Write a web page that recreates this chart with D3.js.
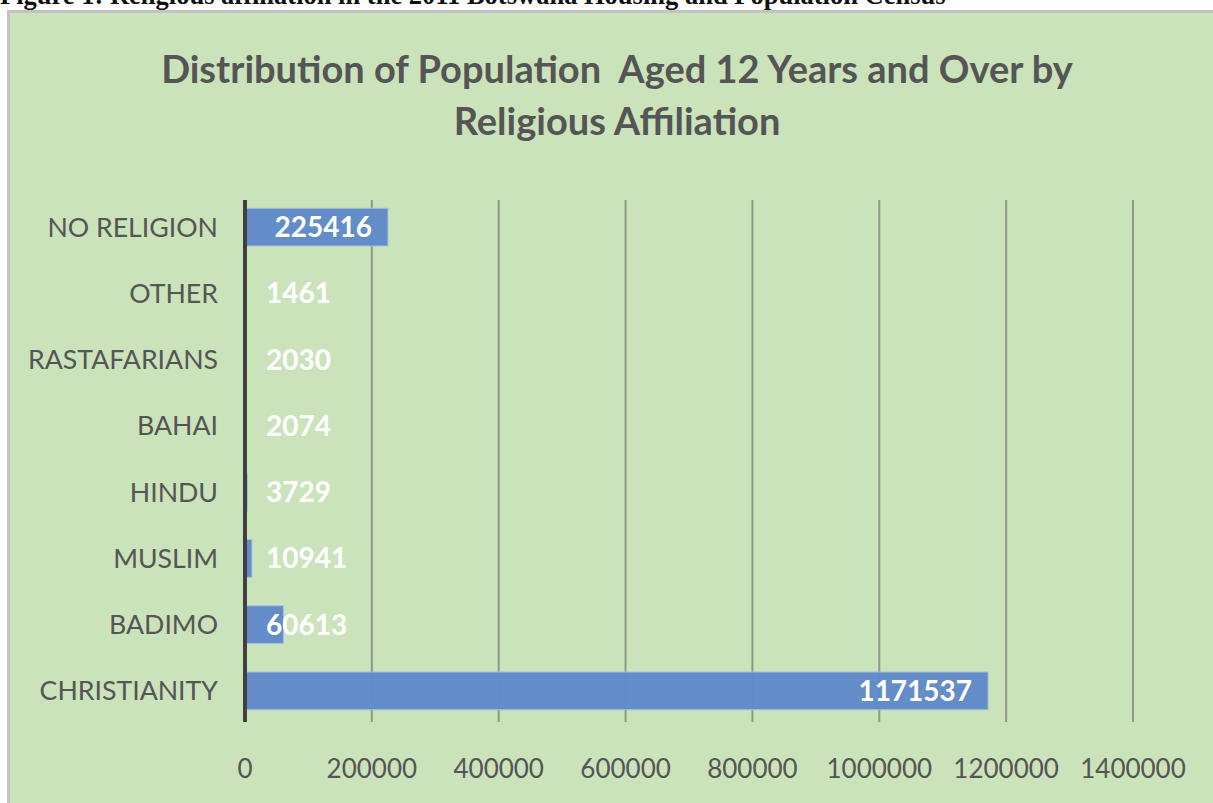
<!DOCTYPE html>
<html>
<head>
  <meta charset="UTF-8">
  <style>
    body { margin: 0; background: #fff; }
    svg { display: block; }
  </style>
</head>
<body>
<svg></svg>
<script src="https://d3js.org/d3.v7.min.js"></script>
<script>

let width = 1213, height = 803;

// data
const categories = ["NO RELIGION", "OTHER", "RASTAFARIANS", "BAHAI", "HINDU", "MUSLIM", "BADIMO", "CHRISTIANITY"];
const values = [225416, 1461, 2030, 2074, 3729, 10941, 60613, 1171537];
const ticks = [0, 200000, 400000, 600000, 800000, 1000000, 1200000, 1400000];

let svg = d3.select("svg")
    .attr("width", width)
    .attr("height", height);

// caption above the panel, cut off at the top
svg.append("text")
    .attr("x", 0)
    .attr("y", 4)
    .attr("font-family", "Liberation Serif")
    .attr("font-weight", "bold")
    .attr("font-size", 26.5)
    .attr("fill", "#111")
    .text("Figure 1: Religious affiliation in the 2011 Botswana Housing and Population Census");

// panel with grey border on top and left
svg.append("rect")
    .attr("x", 7).attr("y", 10)
    .attr("width", width).attr("height", height)
    .attr("fill", "#c3c3c3");
svg.append("rect")
    .attr("x", 10).attr("y", 13)
    .attr("width", width).attr("height", height)
    .attr("fill", "#cbe3bb");

// title
let title = svg.append("text")
    .attr("text-anchor", "middle")
    .attr("font-family", "Lato")
    .attr("font-weight", "bold")
    .attr("font-size", 38)
    .attr("fill", "#555")
    .style("white-space", "pre");
title.append("tspan").attr("x", 617).attr("y", 83).text("Distribution of Population  Aged 12 Years and Over by");
title.append("tspan").attr("x", 617).attr("y", 135).text("Religious Affiliation");

let x = d3.scaleLinear()
    .domain([0, 1400000])
    .range([245, 1133]);

let y = d3.scaleBand()
    .domain(categories)
    .range([194, 724])
    .paddingInner(0.43)
    .paddingOuter(0.215);

// gridlines
svg.append("g")
    .selectAll("line")
    .data(ticks.slice(1))
    .enter()
    .append("line")
    .attr("x1", d => x(d)).attr("x2", d => x(d))
    .attr("y1", 200).attr("y2", 722)
    .attr("stroke", "#8d9a86")
    .attr("stroke-width", 2);

// bars
svg.append("g")
    .selectAll("rect")
    .data(values)
    .enter()
    .append("rect")
    .attr("x", x(0))
    .attr("y", (d, i) => y(categories[i]))
    .attr("width", d => x(d) - x(0))
    .attr("height", y.bandwidth())
    .attr("fill", "#5f8ac8")
    .attr("fill-opacity", 0.97)
    .attr("stroke", "#a9c0e0")
    .attr("stroke-width", 1);

// zero axis line
svg.append("line")
    .attr("x1", x(0)).attr("x2", x(0))
    .attr("y1", 200).attr("y2", 722)
    .attr("stroke", "#404040")
    .attr("stroke-width", 4);

// category labels
svg.append("g")
    .selectAll("text")
    .data(categories)
    .enter()
    .append("text")
    .attr("x", 218)
    .attr("y", d => y(d) + y.bandwidth() / 2)
    .attr("dy", "0.36em")
    .attr("text-anchor", "end")
    .attr("font-family", "Lato")
    .attr("font-size", 26.7)
    .attr("fill", "#555")
    .text(d => d);

// x tick labels
svg.append("g")
    .selectAll("text")
    .data(ticks)
    .enter()
    .append("text")
    .attr("x", d => x(d))
    .attr("y", 778)
    .attr("text-anchor", "middle")
    .attr("font-family", "Lato")
    .attr("font-size", 26)
    .attr("fill", "#555")
    .text(d => d);

// value labels
let labels = svg.append("g")
    .selectAll("text")
    .data(values)
    .enter()
    .append("text")
    .attr("y", (d, i) => y(categories[i]) + y.bandwidth() / 2)
    .attr("dy", "0.36em")
    .attr("font-family", "Lato")
    .attr("font-weight", "bold")
    .attr("font-size", 28)
    .attr("fill", "#fff")
    .text(d => d);

labels.each(function(d) {
    let w = this.getComputedTextLength();
    let end = x(d) - 16;
    if (end - w < 266) end = 266 + w;
    d3.select(this).attr("x", end).attr("text-anchor", "end");
});

</script>
</body>
</html>
